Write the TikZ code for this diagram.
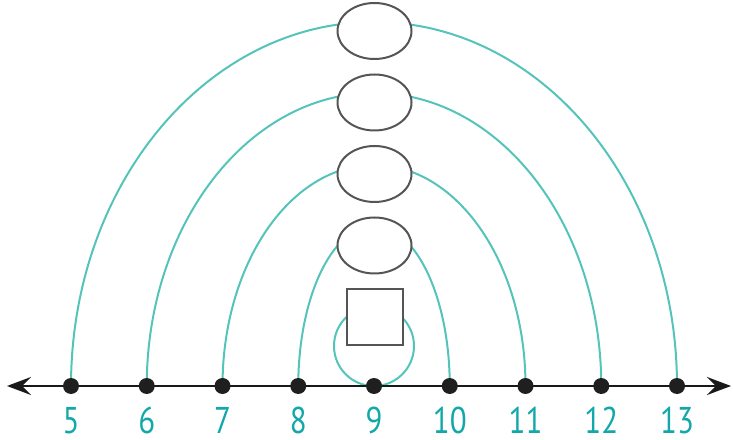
\documentclass[tikz,border=0pt]{standalone}
\usepackage{fontspec}
\setmainfont{PT Sans}
\usetikzlibrary{arrows.meta,shapes.geometric}
\definecolor{arcteal}{RGB}{84,196,186}
\definecolor{labelteal}{RGB}{18,168,170}
\definecolor{outline}{RGB}{85,85,85}
\newcommand{\tallnum}[1]{\scalebox{1}[1.2]{#1}}
\begin{document}
\begin{tikzpicture}[x=1pt,y=1pt,
  dot/.style={circle,fill=black!88,inner sep=0pt,minimum size=16pt},
  blank/.style={ellipse,draw=outline,line width=2pt,fill=white,
                minimum width=74pt,minimum height=56pt,inner sep=0pt},
  boxblank/.style={rectangle,draw=outline,line width=2pt,fill=white,
                minimum size=56pt,inner sep=0pt},
  arcline/.style={draw=arcteal,line width=2pt},
  numlabel/.style={text=labelteal,font=\fontsize{31}{31}\selectfont,
                   anchor=base,inner sep=0pt},
  axis/.style={line width=2.5pt,draw=black!90,
     {Stealth[length=24pt,width=18pt,inset=9pt]}-{Stealth[length=24pt,width=18pt,inset=9pt]}}]
\useasboundingbox (0,0) rectangle (733,439);

% tick positions on the number line
\foreach \n [count=\i from 0] in {5,...,13}
  \coordinate (p\n) at ({71+75.75*\i},53);
\coordinate (lend) at (7,53);
\coordinate (rend) at (731,53);

% jump arcs, all centred on 9
\draw[arcline] (p5) arc[start angle=180,end angle=0,x radius=303,y radius=364];
\draw[arcline] (p6) arc[start angle=180,end angle=0,x radius=227.25,y radius=293];
\draw[arcline] (p7) arc[start angle=180,end angle=0,x radius=151.5,y radius=221];
\draw[arcline] (p8) arc[start angle=180,end angle=0,x radius=75.75,y radius=160];
\draw[arcline] (p9) ++(0,40) circle[radius=40];

% answer blanks
\node[blank] (e1) at (374.5,408) {};
\node[blank] (e2) at (374.5,336.5) {};
\node[blank] (e3) at (374.5,265) {};
\node[blank] (e4) at (374.5,193.5) {};
\node[boxblank] (sq) at (375,122) {};

% number line
\draw[axis] (lend) -- (rend);
\foreach \n [count=\i from 0] in {5,...,13} {
  \node[dot] (d\n) at (p\n) {};
  \node[numlabel] (l\n) at ({71+75.75*\i},5.5) {\tallnum{\n}};
}
\end{tikzpicture}
\end{document}
